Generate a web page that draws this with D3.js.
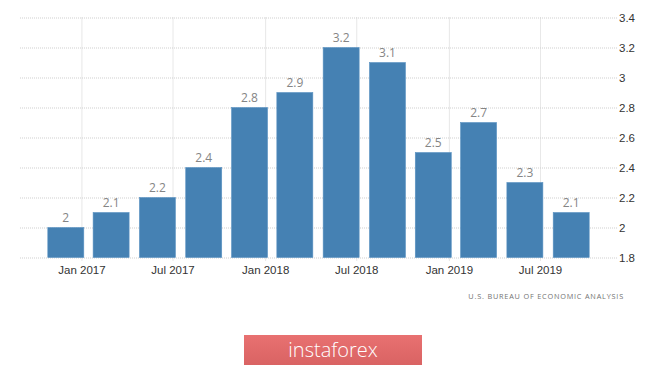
<!DOCTYPE html>
<html>
<head>
<meta charset="utf-8">
<script src="https://cdn.jsdelivr.net/npm/d3@7"></script>
<style>
  body { margin: 0; background: #fff; }
  svg { display: block; font-family: "Open Sans", "DejaVu Sans", sans-serif; }
</style>
</head>
<body>
<div id="chart"></div>
<script>
// quarterly values, plotted at quarter-end month
let quarters = ["2016-12", "2017-03", "2017-06", "2017-09", "2017-12", "2018-03",
  "2018-06", "2018-09", "2018-12", "2019-03", "2019-06", "2019-09"];
let values = [2, 2.1, 2.2, 2.4, 2.8, 2.9, 3.2, 3.1, 2.5, 2.7, 2.3, 2.1];
let xTickDates = ["2017-01", "2017-07", "2018-01", "2018-07", "2019-01", "2019-07"];
let yTicks = [1.8, 2, 2.2, 2.4, 2.6, 2.8, 3, 3.2, 3.4];

let width = 665;
let height = 366;
let plotLeft = 20;
let plotRight = 617;
let plotTop = 17.5;
let plotBottom = 257.5;
let barWidth = 36;

let parseMonth = d3.timeParse("%Y-%m");
let data = quarters.map(function (q, i) {
  return { date: parseMonth(q), value: values[i] };
});

let svg = d3.select("#chart")
  .append("svg")
  .attr("width", width)
  .attr("height", height);

let xScale = d3.scaleTime()
  .domain([parseMonth("2016-09"), parseMonth("2019-12")])
  .range([plotLeft, plotRight]);

let yScale = d3.scaleLinear()
  .domain([1.8, 3.4])
  .range([plotBottom, plotTop]);

// horizontal grid + right labels
let yAxis = d3.axisRight(yScale)
  .tickValues(yTicks)
  .tickSize(plotRight - plotLeft)
  .tickFormat(d3.format("~g"));

svg.append("g")
  .attr("class", "yAxis")
  .attr("transform", "translate(" + plotLeft + ",0)")
  .call(yAxis)
  .call(function (g) {
    g.select(".domain").remove();
    g.selectAll("line")
      .attr("stroke", "#cfcfcf")
      .attr("stroke-dasharray", "1,1");
    g.selectAll("text")
      .attr("x", plotRight - plotLeft + 2)
      .attr("fill", "#333")
      .attr("font-size", 11.5);
  });

// vertical grid + bottom labels
let xAxis = d3.axisBottom(xScale)
  .tickValues(xTickDates.map(parseMonth))
  .tickSize(plotBottom - plotTop + 4)
  .tickFormat(d3.timeFormat("%b %Y"));

svg.append("g")
  .attr("class", "xAxis")
  .attr("transform", "translate(0," + plotTop + ")")
  .call(xAxis)
  .call(function (g) {
    g.select(".domain").remove();
    g.selectAll("line")
      .attr("stroke", "#cfcfcf")
      .attr("stroke-dasharray", "1,1");
    g.selectAll("text")
      .attr("y", plotBottom - plotTop + 8)
      .attr("fill", "#333")
      .attr("font-size", 11.5);
  });

// bars
svg.append("g")
  .selectAll("rect")
  .data(data)
  .enter()
  .append("rect")
  .attr("x", function (d) { return xScale(d.date) - barWidth / 2; })
  .attr("y", function (d) { return yScale(d.value); })
  .attr("width", barWidth)
  .attr("height", function (d) { return plotBottom - yScale(d.value); })
  .attr("fill", "#4581b3")
  .attr("stroke", "#5a92c2")
  .attr("stroke-width", 0.6);

// value labels
svg.append("g")
  .selectAll("text")
  .data(data)
  .enter()
  .append("text")
  .attr("x", function (d) { return xScale(d.date); })
  .attr("y", function (d) { return yScale(d.value) - 6; })
  .attr("text-anchor", "middle")
  .attr("font-size", 12)
  .attr("fill", "#858585")
  .text(function (d) { return d3.format("~g")(d.value); });

// source
svg.append("text")
  .attr("x", 624)
  .attr("y", 299)
  .attr("text-anchor", "end")
  .attr("font-size", 7.3)
  .attr("letter-spacing", 0.8)
  .attr("fill", "#737373")
  .text("U.S. BUREAU OF ECONOMIC ANALYSIS");

// instaforex badge
let grad = svg.append("defs")
  .append("linearGradient")
  .attr("id", "badge")
  .attr("x1", 0).attr("y1", 0).attr("x2", 0).attr("y2", 1);
grad.append("stop").attr("offset", "0%").attr("stop-color", "#e87171");
grad.append("stop").attr("offset", "100%").attr("stop-color", "#d96363");

svg.append("rect")
  .attr("x", 244)
  .attr("y", 335)
  .attr("width", 178)
  .attr("height", 30)
  .attr("fill", "url(#badge)");

svg.append("text")
  .attr("x", 333)
  .attr("y", 357)
  .attr("text-anchor", "middle")
  .attr("font-size", 20)
  .attr("font-weight", 300)
  .attr("fill", "#fff")
  .text("instaforex");
</script>
</body>
</html>
